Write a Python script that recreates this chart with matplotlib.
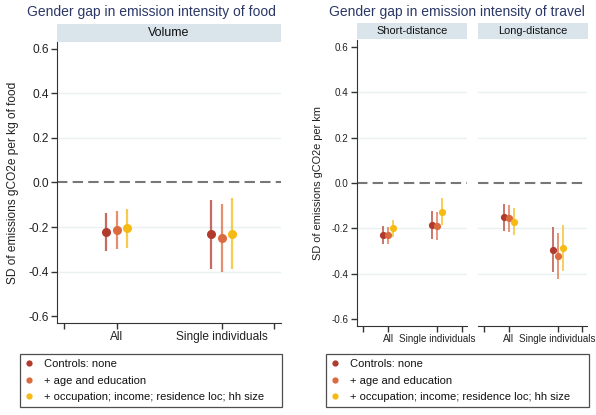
import matplotlib
matplotlib.use('Agg')
import matplotlib.pyplot as plt
from matplotlib.lines import Line2D

plt.rcParams['font.family'] = ['Liberation Sans', 'DejaVu Sans']

# ---- data ----
groups = ['All', 'Single individuals']
controls = ['Controls: none', '+ age and education',
            '+ occupation; income; residence loc; hh size']
colors = ['#B23A2C', '#DB6A3E', '#F6BA12']

food_est = [[-0.220, -0.213, -0.205], [-0.231, -0.249, -0.230]]
food_lo = [[-0.306, -0.297, -0.294], [-0.386, -0.400, -0.389]]
food_hi = [[-0.135, -0.129, -0.118], [-0.077, -0.098, -0.069]]

short_est = [[-0.229, -0.231, -0.200], [-0.184, -0.189, -0.126]]
short_lo = [[-0.269, -0.270, -0.240], [-0.247, -0.253, -0.186]]
short_hi = [[-0.190, -0.193, -0.164], [-0.122, -0.128, -0.064]]

long_est = [[-0.151, -0.154, -0.170], [-0.293, -0.321, -0.285]]
long_lo = [[-0.211, -0.215, -0.231], [-0.394, -0.424, -0.388]]
long_hi = [[-0.093, -0.096, -0.112], [-0.195, -0.221, -0.183]]

group_pos = [1, 3]
offsets = [-0.2, 0.0, 0.2]
yticks = [-0.6, -0.4, -0.2, 0.0, 0.2, 0.4, 0.6]
gridvals = [-0.4, -0.2, 0.2, 0.4]

W, H = 596, 415
fig = plt.figure(figsize=(W / 100, H / 100), dpi=100)


def px(x0, y0, x1, y1):
    # pixel box -> figure fraction rect
    return [x0 / W, 1 - y1 / H, (x1 - x0) / W, (y1 - y0) / H]


def strip(x0, y0, x1, y1, label, fs):
    sa = fig.add_axes(px(x0, y0, x1, y1))
    sa.set_facecolor('#D9E4EB')
    for s in sa.spines.values():
        s.set_visible(False)
    sa.set_xticks([])
    sa.set_yticks([])
    sa.text(0.5, 0.5, label, ha='center', va='center', fontsize=fs, color='#111111')


def panel(rect, est, lo, hi, xlim, fs, ms, lw, showy=True, dash_len=(5, 2.5)):
    ax = fig.add_axes(rect)
    for g in gridvals:
        ax.axhline(g, color='#E9F1F2', lw=1.0, zorder=0)
    ax.axhline(0, color='#777777', lw=1.5, ls=(0, dash_len), zorder=1)
    for gi, gp in enumerate(group_pos):
        for ci in range(3):
            x = gp + offsets[ci]
            ax.vlines(x, lo[gi][ci], hi[gi][ci], color=colors[ci], lw=lw, alpha=0.75, zorder=2)
            ax.plot([x], [est[gi][ci]], 'o', color=colors[ci], ms=ms, mec='none', zorder=3)
    ax.set_ylim(-0.63, 0.63)
    ax.set_xlim(*xlim)
    ax.set_xticks([0, 1, 3, 4])
    ax.set_xticklabels(['', groups[0], groups[1], ''])
    ax.tick_params(axis='x', length=4, width=1, color='#333333', labelsize=fs,
                   labelcolor='#222222', pad=2)
    for s in ['top', 'right']:
        ax.spines[s].set_visible(False)
    ax.spines['bottom'].set_color('#333333')
    ax.spines['left'].set_color('#333333')
    if showy:
        ax.set_yticks(yticks)
        ax.set_yticklabels(['%.1f' % v for v in yticks])
        ax.tick_params(axis='y', length=4, width=1, color='#333333', labelsize=fs,
                       labelcolor='#222222', pad=2)
    else:
        ax.spines['left'].set_visible(False)
        ax.set_yticks([])
    return ax


title_col = '#2B3866'

# ---- left: food ----
axf = panel(px(57, 42, 281, 323), food_est, food_lo, food_hi, (-0.134, 4.13),
            fs=8.6, ms=6.5, lw=1.6)
strip(57, 24, 281, 42, 'Volume', 9)
axf.set_ylabel('SD of emissions gCO2e per kg of food', fontsize=8.6, color='#222222', labelpad=7)
fig.text(151 / W, 1 - 12 / H, 'Gender gap in emission intensity of food', ha='center',
         va='center', fontsize=10, color=title_col)

# ---- right: travel ----
axs = panel(px(357, 40, 467, 326), short_est, short_lo, short_hi, (-0.26, 4.2),
            fs=7.1, ms=5.2, lw=1.3)
strip(357, 23, 467, 39, 'Short-distance', 7.9)
axs.set_ylabel('SD of emissions gCO2e per km', fontsize=7.9, color='#222222', labelpad=6)
axl = panel(px(478, 40, 587, 326), long_est, long_lo, long_hi, (-0.26, 4.2),
            fs=7.1, ms=5.2, lw=1.3, showy=False)
strip(478, 23, 588, 39, 'Long-distance', 7.9)
fig.text(457 / W, 1 - 12 / H, 'Gender gap in emission intensity of travel', ha='center',
         va='center', fontsize=10, color=title_col)

# ---- legends ----
handles = [Line2D([], [], ls='none', marker='o', ms=4.5, color=c, mec='none') for c in colors]
for x0, x1 in [(20, 282), (326, 589)]:
    lg = fig.legend(handles, controls, loc='upper left',
                    bbox_to_anchor=(x0 / W, 1 - 414 / H, (x1 - x0) / W, 60 / H),
                    mode='expand', fontsize=8, frameon=True, fancybox=False,
                    edgecolor='#222222', borderpad=0.45, labelspacing=0.6,
                    handlelength=0.8, handletextpad=0.9, borderaxespad=0)
    lg.get_frame().set_linewidth(0.9)
    for t in lg.get_texts():
        t.set_color('#111111')

fig.savefig('out.png', dpi=100)
